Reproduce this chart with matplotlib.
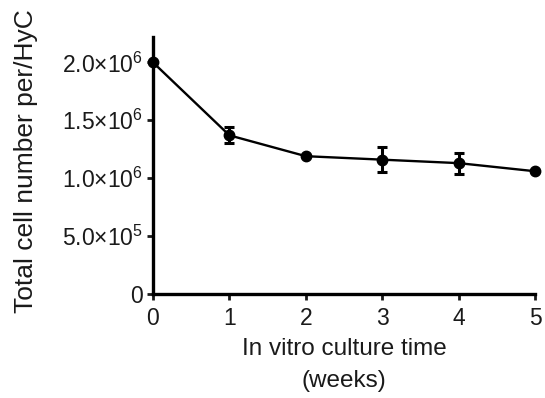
import matplotlib
matplotlib.use("Agg")
import matplotlib.pyplot as plt

# 데이터
weeks = [0, 1, 2, 3, 4, 5]
cell_number = [2.0e6, 1.37e6, 1.19e6, 1.16e6, 1.13e6, 1.06e6]
cell_err = [0.0, 0.07e6, 0.0, 0.105e6, 0.09e6, 0.0]
y_ticks = [0, 0.5e6, 1.0e6, 1.5e6, 2.0e6]
y_tick_labels = ["0", r"5.0$\times$10$^{5}$", r"1.0$\times$10$^{6}$",
                 r"1.5$\times$10$^{6}$", r"2.0$\times$10$^{6}$"]

plt.rcParams['font.family'] = ['Liberation Sans', 'DejaVu Sans']
plt.rcParams['mathtext.fontset'] = 'custom'
plt.rcParams['mathtext.rm'] = 'Liberation Sans'
plt.rcParams['mathtext.it'] = 'Liberation Sans'
plt.rcParams['mathtext.bf'] = 'Liberation Sans'

fig = plt.figure(figsize=(5.45, 3.98), dpi=100)
ax = fig.add_axes([0.2807, 0.2613, 0.701, 0.646])

ax.errorbar(weeks, cell_number, yerr=cell_err, color='black', lw=1.7,
            marker='o', markersize=7.5, capsize=3.6, capthick=2.2, elinewidth=2.2,
            clip_on=False, zorder=3)

ax.set_xlim(0, 5)
ax.set_ylim(0, 2.22e6)
ax.set_xticks(weeks)
ax.set_yticks(y_ticks)
ax.set_yticklabels(y_tick_labels)

for side in ['top', 'right']:
    ax.spines[side].set_visible(False)
for side in ['left', 'bottom']:
    ax.spines[side].set_linewidth(2.4)

ax.tick_params(axis='both', direction='out', length=4, width=2, labelsize=16.5,
               colors='#1a1a1a')
ax.tick_params(axis='x', pad=5)
ax.tick_params(axis='y', pad=3)

ax.set_xlabel("In vitro culture time\n(weeks)", fontsize=17.5, color='#1a1a1a',
              labelpad=6, linespacing=1.6)
ax.set_ylabel("Total cell number per/HyC", fontsize=19, color='#1a1a1a')
ax.yaxis.set_label_coords(-0.30, 0.517)

fig.savefig("out.png", dpi=100)
